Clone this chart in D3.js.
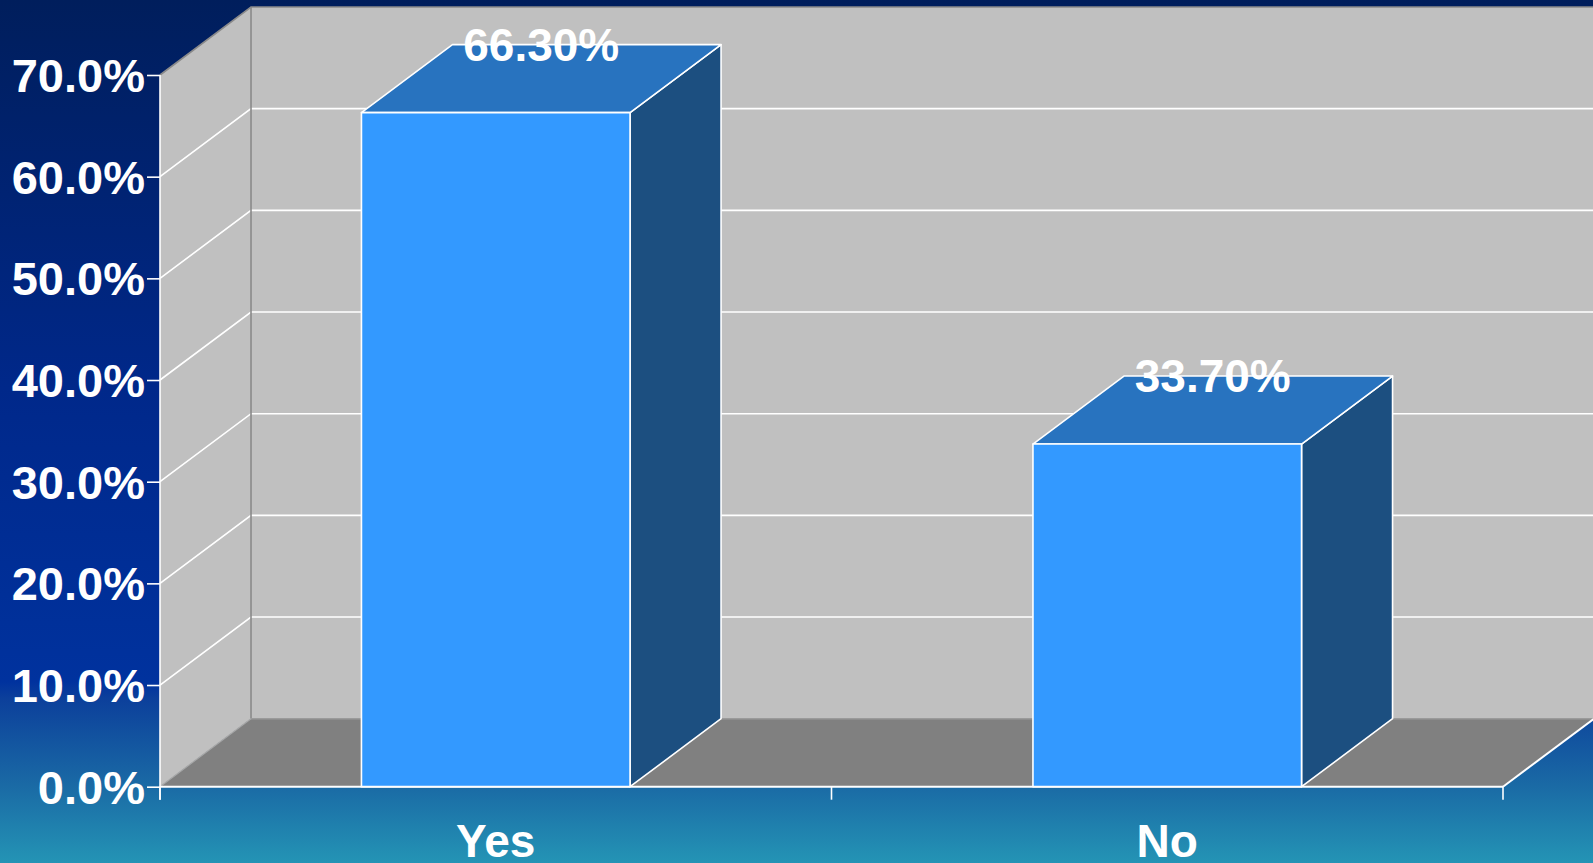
<!DOCTYPE html>
<html>
<head>
<meta charset="utf-8">
<script src="https://cdn.jsdelivr.net/npm/d3@7"></script>
<style>
  html, body { margin: 0; padding: 0; overflow: hidden; }
  svg { display: block; }
  text { font-family: "Liberation Sans", Arial, sans-serif; font-weight: bold; fill: #ffffff; }
</style>
</head>
<body>
<svg id="chart" width="1593" height="863"></svg>
<script>
// Survey answers and their shares (percent)
const categories = ["Yes", "No"];
const values = [66.3, 33.7];
const valueLabels = ["66.30%", "33.70%"];
const yTicks = [0, 10, 20, 30, 40, 50, 60, 70];

(function () {
const W = 1593, H = 863;
const plotLeft = 160, plotRight = 1503, plotBottom = 786.7, plotTop = 75;
const DX = 91, DY = -68; // depth offset of the 3D box

const svg = d3.select("#chart");

// Slide background
const defs = svg.append("defs");
const bg = defs.append("linearGradient").attr("id", "bg")
  .attr("x1", 0).attr("y1", 0).attr("x2", 0).attr("y2", 1);
[[0, "#001e5c"], [0.45, "#00288a"], [0.79, "#00329e"], [0.81, "#0c409b"],
 [0.91, "#1a6aa5"], [1, "#2494b5"]].forEach(([o, c]) =>
  bg.append("stop").attr("offset", o).attr("stop-color", c));
svg.append("rect").attr("width", W).attr("height", H).attr("fill", "url(#bg)");

const y = d3.scaleLinear().domain([0, 70]).range([plotBottom, plotTop]);
const x = d3.scaleBand().domain(categories).range([plotLeft, plotRight])
  .paddingInner(0.6).paddingOuter(0.3);
const step = x.step();

const yMax = y(70), y0 = y(0);
const L = plotLeft, R = plotRight;
const pts = a => a.map(p => p.join(",")).join(" ");

// Back wall
svg.append("polygon")
  .attr("points", pts([[L + DX, yMax + DY], [R + DX + 5, yMax + DY], [R + DX + 5, y0 + DY], [L + DX, y0 + DY]]))
  .attr("fill", "#c0c0c0");
// Side wall
svg.append("polygon")
  .attr("points", pts([[L, yMax], [L + DX, yMax + DY], [L + DX, y0 + DY], [L, y0]]))
  .attr("fill", "#c0c0c0");
// Floor
svg.append("polygon")
  .attr("points", pts([[L, y0], [R, y0], [R + DX, y0 + DY], [L + DX, y0 + DY]]))
  .attr("fill", "#808080");

// Gridlines on side and back walls
const inner = yTicks.filter(t => t > 0 && t < 70);
const grid = svg.append("g").attr("stroke", "#ffffff").attr("stroke-width", 1.6).attr("fill", "none");
inner.forEach(t => {
  grid.append("polyline")
    .attr("points", pts([[L, y(t)], [L + DX, y(t) + DY], [R + DX + 5, y(t) + DY]]));
});

// Wall edges
const edges = svg.append("g").attr("stroke", "#8a8a8a").attr("stroke-width", 1.6).attr("fill", "none");
edges.append("polyline").attr("points", pts([[L, yMax], [L + DX, yMax + DY], [R + DX + 5, yMax + DY]]));
edges.append("line").attr("x1", L + DX).attr("x2", L + DX).attr("y1", yMax + DY).attr("y2", y0 + DY);
edges.append("line").attr("x1", L + DX).attr("x2", R + DX + 5).attr("y1", y0 + DY).attr("y2", y0 + DY)
  .attr("stroke", "#9a9a9a");
edges.append("line").attr("x1", L).attr("y1", y0).attr("x2", L + DX).attr("y2", y0 + DY)
  .attr("stroke", "#a8a8a8").attr("stroke-width", 1.2);
// Right floor edge
svg.append("line").attr("x1", R).attr("y1", y0).attr("x2", R + DX).attr("y2", y0 + DY)
  .attr("stroke", "#ffffff").attr("stroke-width", 2);

// Bars
const bars = svg.append("g").selectAll("g").data(categories).join("g")
  .attr("stroke", "#ffffff").attr("stroke-width", 1.6).attr("stroke-linejoin", "round");
bars.each(function (c, i) {
  const g = d3.select(this);
  const x0 = x(c), x1 = x(c) + x.bandwidth(), yt = y(values[i]);
  g.append("polygon").attr("fill", "#1c4f80")
    .attr("points", pts([[x1, yt], [x1 + DX, yt + DY], [x1 + DX, y0 + DY], [x1, y0]]));
  g.append("polygon").attr("fill", "#2873bf")
    .attr("points", pts([[x0, yt], [x0 + DX, yt + DY], [x1 + DX, yt + DY], [x1, yt]]));
  g.append("rect").attr("fill", "#3399ff")
    .attr("x", x0).attr("y", yt).attr("width", x1 - x0).attr("height", y0 - yt);
});

// Value labels
svg.append("g").selectAll("text").data(categories).join("text")
  .attr("x", (c) => x(c) + x.bandwidth() / 2 + DX / 2)
  .attr("y", (c, i) => y(values[i]) + DY / 2 - 18)
  .attr("text-anchor", "middle").attr("font-size", 46)
  .text((c, i) => valueLabels[i]);

// Y axis
const yAxis = d3.axisLeft(y).tickValues(yTicks).tickFormat(d => d.toFixed(1) + "%")
  .tickSize(13).tickPadding(2);
const ya = svg.append("g").attr("transform", `translate(${L},0)`).call(yAxis);
ya.select(".domain").remove();
ya.selectAll(".tick line").attr("stroke", "#ffffff").attr("stroke-width", 1.6);
ya.selectAll(".tick text").attr("font-size", 47).attr("dy", "0.35em")
  .attr("font-family", "Liberation Sans, Arial, sans-serif").attr("fill", "#ffffff");
svg.append("line").attr("x1", L).attr("x2", L).attr("y1", yMax).attr("y2", y0 + 13)
  .attr("stroke", "#ffffff").attr("stroke-width", 1.6);

// X axis: baseline, category boundary ticks, centred labels
svg.append("line").attr("x1", L).attr("x2", R).attr("y1", y0).attr("y2", y0)
  .attr("stroke", "#ffffff").attr("stroke-width", 2);
const boundaries = d3.range(categories.length + 1).map(i => L + i * step);
svg.append("g").selectAll("line").data(boundaries).join("line")
  .attr("x1", d => d).attr("x2", d => d).attr("y1", y0).attr("y2", y0 + 13)
  .attr("stroke", "#ffffff").attr("stroke-width", 1.6);
const xAxis = d3.axisBottom(x).tickSize(0).tickPadding(0);
const xa = svg.append("g").attr("transform", `translate(0,${y0})`).call(xAxis);
xa.select(".domain").remove();
xa.selectAll(".tick text").attr("font-size", 46).attr("dy", 0).attr("y", 70)
  .attr("font-family", "Liberation Sans, Arial, sans-serif").attr("fill", "#ffffff");
})();
</script>
</body>
</html>
